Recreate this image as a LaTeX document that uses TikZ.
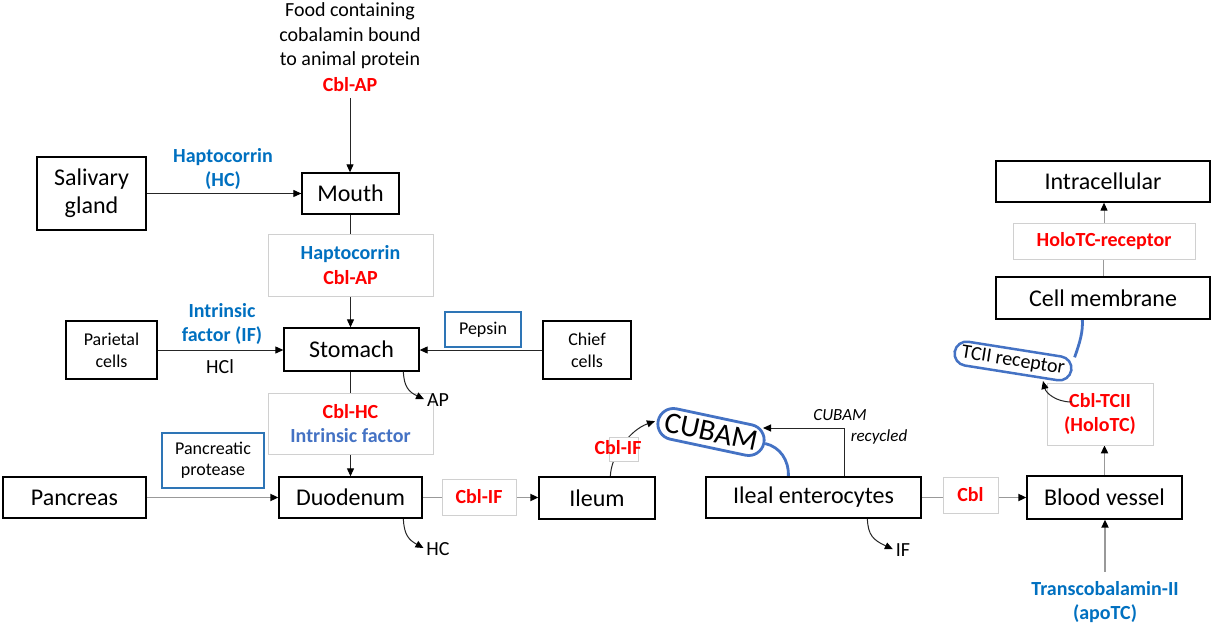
\documentclass[tikz,border=0pt]{standalone}
\usepackage{fontspec}
\setmainfont{Carlito}
\usetikzlibrary{arrows.meta,calc,backgrounds}

\definecolor{cblred}{HTML}{FF0000}
\definecolor{hcblue}{HTML}{0070C0}
\definecolor{ifblue}{HTML}{4472C4}
\definecolor{pillblue}{HTML}{4472C4}
\definecolor{boxblue}{HTML}{2E75B6}
\definecolor{lboxgray}{HTML}{D0D0D0}
\definecolor{gline}{HTML}{999999}

\begin{document}
\begin{tikzpicture}[x=1pt,y=-1pt,
  wh/.style 2 args={minimum width=#1pt, minimum height=#2pt},
  box/.style={draw=black, line width=1.3pt, fill=white, inner sep=0pt,
    font=\fontsize{24}{28}\selectfont, align=center},
  sbox/.style={box, font=\fontsize{18}{22}\selectfont},
  bluebox/.style={draw=boxblue, line width=2pt, fill=white, inner sep=0pt,
    font=\fontsize{18}{21}\selectfont, align=center},
  lbox/.style={draw=lboxgray, line width=0.8pt, fill=white, inner sep=0pt,
    font=\fontsize{20}{24.5}\selectfont\bfseries, align=center},
  lbl/.style={font=\fontsize{20}{24.5}\selectfont, align=center, inner sep=1pt},
  blbl/.style={lbl, font=\fontsize{20}{24.5}\selectfont\bfseries},
  ilbl/.style={font=\fontsize{17}{20}\selectfont\itshape, inner sep=1pt},
  pill/.style={draw=pillblue, line width=2.8pt, fill=white, inner sep=0pt, rounded corners=#1},
  conn/.style={draw=black!85, line width=1pt},
  arr/.style={conn, -{Triangle[length=8pt,width=7pt,color=black]}},
  garr/.style={draw=gline, line width=1.8pt, -{Triangle[length=8pt,width=7pt,color=black]}},
  pline/.style={draw=pillblue, line width=2.8pt}
]
\useasboundingbox (0,0) rectangle (1212,628);

% ---------- upper digestive tract ----------
\node[lbl] (food) at (350,36) {Food containing\\cobalamin bound\\to animal protein};
\node[blbl, text=cblred, inner ysep=6pt] (cblap) at (350,85) {Cbl-AP};

\node[box, wh={97}{41}] (mouth) at (350.5,193.5) {Mouth};
\node[box, wh={109}{73}] (saliv) at (91.5,193.5) {Salivary\\gland};
\node[blbl, text=hcblue] (hcl1) at (223,169) {Haptocorrin\\(HC)};

\node[lbox, wh={165}{62}] (lb1) at (350.5,265)
  {\textcolor{hcblue}{Haptocorrin}\\\textcolor{cblred}{Cbl-AP}};

\node[box, wh={135}{43}] (stomach) at (351.5,349.5) {Stomach};
\node[sbox, wh={91}{58}] (parietal) at (111.5,350) {Parietal\\cells};
\node[sbox, wh={88}{58}] (chief) at (587,350) {Chief\\cells};
\node[bluebox, wh={76}{35}] (pepsin) at (483,329.5) {Pepsin};
\node[blbl, text=hcblue] (ifl) at (222,324) {Intrinsic\\factor (IF)};
\node[lbl] (hcl) at (220,367) {HCl};

\node[lbox, wh={165}{61}] (lb2) at (350.5,423.5)
  {\textcolor{cblred}{Cbl-HC}\\\textcolor{ifblue}{Intrinsic factor}};
\node[lbl] (ap) at (438,400) {AP};

\node[box, wh={143}{41}] (duod) at (350.5,497.5) {Duodenum};
\node[box, wh={143}{41}] (pancreas) at (74.5,497.5) {Pancreas};
\node[bluebox, wh={102}{55}] (pprot) at (213,460.5) {Pancreatic\\protease};
\node[lbl] (hcout) at (438,549) {HC};

% ---------- ileum and enterocytes ----------
\node[lbox, wh={74}{36}] (lb3) at (479,497) {\textcolor{cblred}{Cbl-IF}};
\node[box, wh={116}{42}] (ileum) at (597,498) {Ileum};
\node[lbox, wh={29}{24}] (lb4) at (623.5,449) {};
\node[blbl, text=cblred] (cblif) at (618,448) {Cbl-IF};

\node[pill=15.5pt, wh={108}{31}, rotate=-12, font=\fontsize{30}{32}\selectfont] (cubam) at (711,432) {CUBAM};
\node[box, wh={215}{41}] (ileal) at (813.5,497.5) {Ileal enterocytes};
\node[ilbl] (rec1) at (840,415) {CUBAM};
\node[ilbl] (rec2) at (879,437) {recycled};
\node[lbl] (ifout) at (903,550) {IF};
\coordinate (cubin) at (763,428);

% ---------- circulation ----------
\node[lbox, wh={55}{36}] (lb5) at (970.5,495) {\textcolor{cblred}{Cbl}};
\node[box, wh={155}{43}] (blood) at (1104.5,497.5) {Blood vessel};
\node[blbl, text=hcblue, inner ysep=9pt] (tc) at (1105,602) {Transcobalamin-II\\(apoTC)};
\node[lbox, wh={106}{62}] (lb6) at (1100,414) {\textcolor{cblred}{Cbl-TCII}\\\textcolor{cblred}{(HoloTC)}};
\node[pill=12pt, wh={118}{24}, rotate=-9, line width=2.5pt, font=\fontsize{20}{22}\selectfont] (tcr) at (1013,361) {TCII receptor};
\coordinate (tcrin) at (1043,381);
\node[box, wh={214}{42}] (cellm) at (1103,298) {Cell membrane};
\node[lbox, wh={182}{36}] (lb7) at (1104,241) {\textcolor{cblred}{HoloTC-receptor}};
\node[box, wh={214}{41}] (intra) at (1103,181.5) {Intracellular};

% ---------- connectors (behind the boxes) ----------
\begin{scope}[on background layer]
  \fill[white] (0,0) rectangle (1212,628);
  \draw[arr] (cblap.south) -- (cblap.south |- mouth.north);
  \draw[arr] (saliv.east) -- (mouth.west);
  \draw[arr] (mouth.south) -- (mouth.south |- stomach.north);
  \draw[arr] (parietal.east) -- (parietal.east -| stomach.west);
  \draw[arr] (chief.west) -- (chief.west -| stomach.east);
  \draw[arr] (duod.north |- stomach.south) -- (duod.north);
  \draw[garr] (pancreas.east) -- (duod.west);
  \draw[arr, shorten >=2pt] ($(duod.south west)+(125,0)$)
    .. controls (404,535) and (409,540) .. (hcout.west);
  \draw[garr] (duod.east) -- (duod.east -| ileum.west);
  \draw[arr, shorten >=2pt] ($(ileum.north west)+(72,0)$)
    .. controls (611,455) and (630,430) .. (cubam.west);
  \draw[pline] (cubam.east) .. controls (780,447) and (789,460) .. ($(ileal.north west)+(83,0)$);
  \draw[arr] ($(ileal.north west)+(139,0)$) |- (cubin);
  \draw[arr, shorten >=2pt] ($(ileal.south west)+(162,0)$)
    .. controls (868,535) and (873,540) .. (ifout.west);
  \draw[garr] (ileal.east) -- (ileal.east -| blood.west);
  \draw[garr] (tc.north) -- (tc.north |- blood.south);
  \draw[garr] (blood.north) -- (blood.north |- lb6.south);
  \draw[pline] (tcr.north east) .. controls (1080,342) and (1083,332) .. ($(cellm.south west)+(87,0)$);
  \draw[conn, draw=gline] (cellm.north) -- (cellm.north |- lb7.south);
  \draw[arr, draw=gline] (lb7.north) -- (lb7.north |- intra.south);
\end{scope}

% animal protein released in the stomach
\draw[arr, shorten >=2pt] ($(stomach.south west)+(120,0)$)
  .. controls (404,387) and (409,392) .. (ap.west);
% holotranscobalamin meeting its receptor
\draw[arr] ($(lb6.west)+(25,-12)$) .. controls (1056,402) and (1046,393) .. (tcrin);
\end{tikzpicture}
\end{document}
